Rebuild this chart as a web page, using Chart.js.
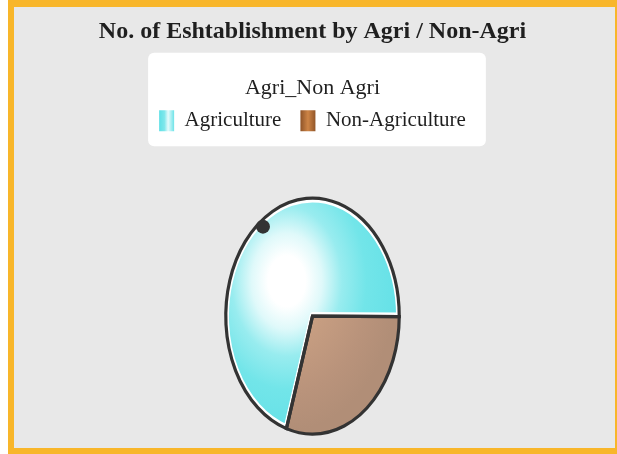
<!DOCTYPE html>
<html><head><meta charset="utf-8">
<script src="https://cdn.jsdelivr.net/npm/chart.js@4.4.1/dist/chart.umd.min.js"></script>
<style>
html,body{margin:0;padding:0;background:#fff;}
#frame{position:absolute;left:8px;top:0;width:609px;height:454px;box-sizing:border-box;border-style:solid;border-color:#f8b62a;border-width:7px 2px 6px 6px;background:#e8e8e8;}
canvas{display:block;}
</style></head><body>
<div id="frame"><canvas id="c" width="601" height="441"></canvas></div>
<script>
// ---- data ----
const chartTitle = 'No. of Eshtablishment by Agri / Non-Agri';
const legendTitle = 'Agri_Non Agri';
const categories = ['Agriculture', 'Non-Agriculture'];
const shareValues = [70.2, 29.8];
const baseColors = ['#6ee4e8', '#b9937b'];

// ---- styling ----
const FONT = "'Liberation Serif', 'Times New Roman', serif";
const TEXT = '#1f1f1f';
const SX = 0.735; // horizontal squash of the pie (elliptical look)

function sliceFill(c) {
  const chart = c.chart, area = chart.chartArea;
  if (!area || c.type !== 'data') return baseColors[c.dataIndex] || baseColors[0];
  const cx = (area.left + area.right) / 2, cy = (area.top + area.bottom) / 2;
  const gx = cx - 35, gy = cy - 35;
  const g = chart.ctx.createRadialGradient(gx, gy, 0, gx, gy, 150);
  if (c.dataIndex === 0) {
    g.addColorStop(0, '#ffffff');
    g.addColorStop(0.17, '#ffffff');
    g.addColorStop(0.32, '#dff9fa');
    g.addColorStop(0.5, '#98ecef');
    g.addColorStop(0.72, '#72e5e9');
    g.addColorStop(1, '#66e1e7');
  } else {
    g.addColorStop(0, '#d6aa8a');
    g.addColorStop(0.4, '#c69d81');
    g.addColorStop(0.75, '#b9937b');
    g.addColorStop(1, '#b18e77');
  }
  return g;
}

const decorPlugin = {
  id: 'decor',
  beforeDraw(chart) {
    const lg = chart.legend, hb = lg.legendHitBoxes, ctx = chart.ctx;
    if (!hb || !hb.length) return;
    const first = hb[0], last = hb[hb.length - 1];
    const x0 = first.left - 11, x1 = last.left + last.width + 20;
    const y0 = lg.top + 1, y1 = first.top + first.height + 15;
    ctx.save();
    ctx.fillStyle = '#ffffff';
    ctx.beginPath();
    ctx.roundRect(x0, y0, x1 - x0, y1 - y0, 6);
    ctx.fill();
    ctx.restore();
    const bw = lg.options.labels.boxWidth;
    lg.legendItems.forEach((it, i) => {
      const h = hb[i];
      const g = ctx.createLinearGradient(h.left, 0, h.left + bw, 0);
      if (i === 0) {
        g.addColorStop(0, '#5fe0e6'); g.addColorStop(0.35, '#7ee7eb');
        g.addColorStop(0.6, '#e6fbfc'); g.addColorStop(1, '#6de3e8');
      } else {
        g.addColorStop(0, '#8e5328'); g.addColorStop(0.5, '#cd8446'); g.addColorStop(1, '#925629');
      }
      it.fillStyle = g;
    });
  },
  beforeDatasetsDraw(chart) {
    const a = chart.getDatasetMeta(0).data[0];
    const ctx = chart.ctx;
    ctx.save();
    ctx.translate(a.x, a.y); ctx.scale(SX, 1); ctx.translate(-a.x, -a.y);
  },
  afterDatasetsDraw(chart) {
    const ctx = chart.ctx;
    ctx.restore();
    const arcs = chart.getDatasetMeta(0).data;
    ctx.save();
    ctx.strokeStyle = '#333333';
    ctx.lineWidth = 3.2;
    ctx.lineJoin = 'miter';
    arcs.forEach(a => {
      ctx.save();
      ctx.translate(a.x, a.y); ctx.scale(SX, 1);
      ctx.beginPath();
      ctx.moveTo(0, 0);
      ctx.arc(0, 0, a.outerRadius, a.startAngle, a.endAngle);
      ctx.closePath();
      ctx.restore();
      ctx.stroke();
    });
    const a = arcs[0];
    const ang = 233 * Math.PI / 180, r = a.outerRadius - 6;
    ctx.fillStyle = '#333333';
    ctx.beginPath();
    ctx.arc(a.x + Math.cos(ang) * r * SX, a.y + Math.sin(ang) * r, 7, 0, Math.PI * 2);
    ctx.fill();
    ctx.restore();
  }
};

new Chart(document.getElementById('c'), {
  type: 'pie',
  data: {
    labels: categories,
    datasets: [{
      data: shareValues,
      backgroundColor: sliceFill,
      borderColor: ['#ffffff', 'rgba(0,0,0,0)'],
      borderWidth: [4, 0],
      borderAlign: 'inner',
      hoverOffset: 0
    }]
  },
  options: {
    responsive: false,
    animation: false,
    devicePixelRatio: 1,
    rotation: 197.5,
    radius: 118,
    layout: { padding: { left: 0, right: 4, top: 0, bottom: 0 } },
    plugins: {
      title: {
        display: true, text: chartTitle, color: TEXT,
        font: { family: FONT, size: 24, weight: 'bold' },
        padding: { top: 10, bottom: 6 }
      },
      subtitle: {
        display: true, text: '', position: 'top', weight: 900,
        font: { family: FONT, size: 10 },
        padding: { top: 0, bottom: 31 }
      },
      legend: {
        position: 'top',
        title: {
          display: true, text: legendTitle, color: TEXT,
          font: { family: FONT, size: 22 },
          padding: { top: 25, bottom: -12 }
        },
        labels: {
          boxWidth: 15, boxHeight: 21, padding: 19, color: TEXT,
          font: { family: FONT, size: 21 },
          generateLabels(chart) {
            return chart.data.labels.map((t, i) => ({
              text: t, fillStyle: baseColors[i], strokeStyle: 'rgba(0,0,0,0)',
              lineWidth: 0, hidden: false, index: i, fontColor: TEXT
            }));
          }
        }
      },
      tooltip: { enabled: false }
    }
  },
  plugins: [decorPlugin]
});
</script>
</body></html>
